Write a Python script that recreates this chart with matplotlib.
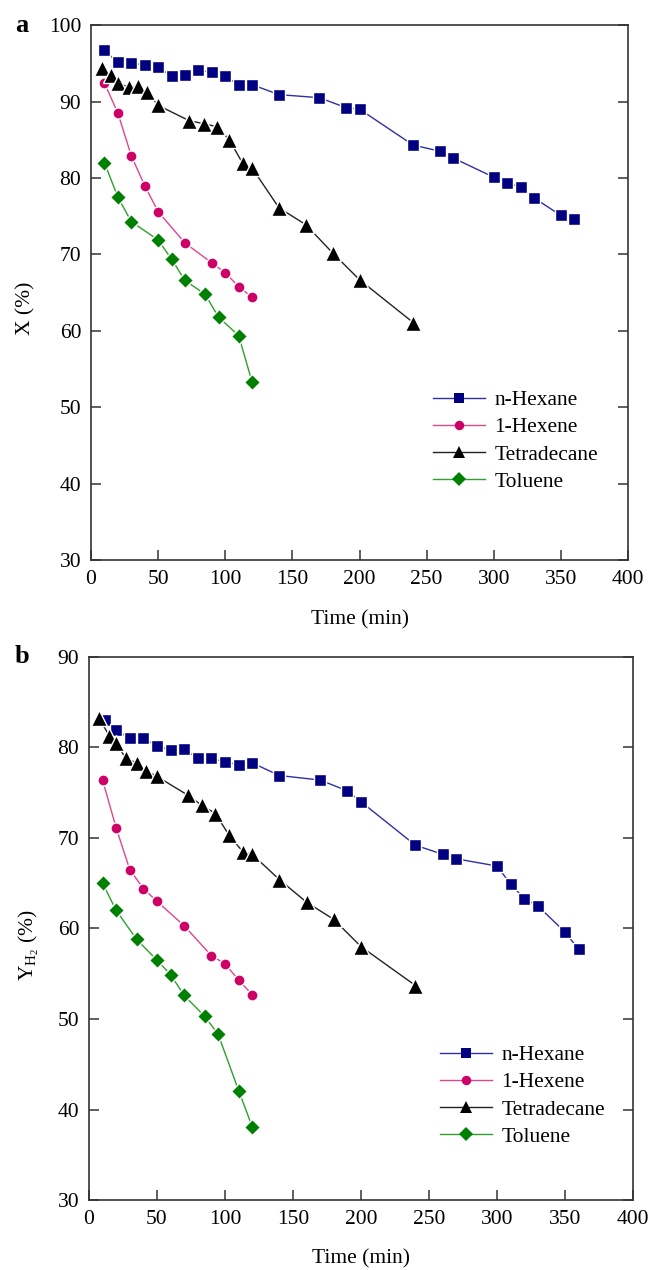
import matplotlib
matplotlib.use("Agg")
import matplotlib.pyplot as plt

plt.rcParams['font.family'] = ['Liberation Serif', 'DejaVu Serif']
plt.rcParams['mathtext.fontset'] = 'stix'

# ---- panel a : conversion X (%) ----
hex_t_a = [10, 20, 30, 40, 50, 60, 70, 80, 90, 100, 110, 120, 140, 170, 190, 200,
           240, 260, 270, 300, 310, 320, 330, 350, 360]
hex_x_a = [96.7, 95.1, 95.0, 94.8, 94.5, 93.3, 93.5, 94.1, 93.8, 93.3, 92.2, 92.2, 90.9,
           90.5, 89.2, 89.0, 84.3, 83.5, 82.6, 80.1, 79.4, 78.8, 77.4, 75.1, 74.7]
hexene_t_a = [10, 20, 30, 40, 50, 70, 90, 100, 110, 120]
hexene_x_a = [92.4, 88.5, 82.9, 79.0, 75.6, 71.5, 68.9, 67.6, 65.8, 64.4]
tetra_t_a = [8, 15, 20, 28, 35, 42, 50, 73, 84, 94, 103, 113, 120, 140, 160, 180, 200, 240]
tetra_x_a = [94.4, 93.5, 92.4, 91.9, 92.0, 91.2, 89.5, 87.5, 87.1, 86.7, 85.0, 81.9,
             81.3, 76.1, 73.9, 70.2, 66.7, 61.1]
tol_t_a = [10, 20, 30, 50, 60, 70, 85, 95, 110, 120]
tol_x_a = [82.0, 77.5, 74.3, 71.9, 69.4, 66.6, 64.8, 61.8, 59.4, 53.3]

# ---- panel b : hydrogen yield (%) ----
hex_t_b = [12, 20, 30, 40, 50, 60, 70, 80, 90, 100, 110, 120, 140, 170, 190, 200,
           240, 260, 270, 300, 310, 320, 330, 350, 360]
hex_y_b = [83.0, 81.9, 81.0, 81.0, 80.2, 79.7, 79.8, 78.8, 78.8, 78.4, 78.1, 78.3, 76.9,
           76.4, 75.2, 74.0, 69.2, 68.2, 67.7, 66.9, 64.9, 63.3, 62.5, 59.6, 57.7]
hexene_t_b = [10, 20, 30, 40, 50, 70, 90, 100, 110, 120]
hexene_y_b = [76.4, 71.1, 66.5, 64.4, 63.0, 60.3, 57.0, 56.1, 54.3, 52.7]
tetra_t_b = [7, 15, 20, 27, 35, 42, 50, 73, 83, 93, 103, 113, 120, 140, 160, 180, 200, 240]
tetra_y_b = [83.3, 81.3, 80.5, 78.8, 78.3, 77.4, 76.8, 74.7, 73.6, 72.7, 70.3, 68.5,
             68.2, 65.4, 62.9, 61.0, 58.0, 53.7]
tol_t_b = [10, 20, 35, 50, 60, 70, 85, 95, 110, 120]
tol_y_b = [65.0, 62.0, 58.8, 56.5, 54.9, 52.6, 50.3, 48.3, 42.1, 38.1]

labels = ['n-Hexane', '1-Hexene', 'Tetradecane', 'Toluene']
markers = ['s', 'o', '^', 'D']
sizes = [8, 8, 11, 8.5]
mcolors = ['#000080', '#CC0066', '#000000', '#008000']
lcolors = ['#2E2EA8', '#E0468C', '#222222', '#2EA02E']

FS = 15.5


def draw_panel(ax, series, ylim, yticks, ylabel, letter, letter_x, leg_xy, ylab_x):
    for (t, v), lab, m, ms, mc, lc in zip(series, labels, markers, sizes, mcolors, lcolors):
        ax.plot(t, v, color=lc, lw=1.0, marker=m, ms=ms, mfc=mc, mec='white',
                mew=1.0, label=lab)
    ax.set_xlim(0, 400)
    ax.set_ylim(*ylim)
    ax.set_xticks(range(0, 401, 50))
    ax.set_yticks(yticks)
    ax.tick_params(direction='in', length=7, width=1.1, labelsize=FS, pad=7,
                   right=True, top=False, color='#333333')
    for s in ax.spines.values():
        s.set_linewidth(1.2)
        s.set_color('#333333')
    ax.set_xlabel('Time (min)', fontsize=FS, labelpad=15)
    ax.set_ylabel(ylabel, fontsize=FS)
    ax.yaxis.set_label_coords(ylab_x, 0.47)
    leg = ax.legend(loc='upper left', bbox_to_anchor=leg_xy, frameon=False,
                    fontsize=FS, handlelength=2.4, handletextpad=0.45,
                    labelspacing=0.33, borderpad=0, borderaxespad=0, numpoints=1)
    for h in leg.legend_handles:
        h.set_markeredgewidth(0)
        h.set_markersize(h.get_markersize() * 0.85)
    ax.text(letter_x, 1.0, letter, transform=ax.transAxes, fontsize=19,
            fontweight='bold', va='center', ha='left')


fig = plt.figure(figsize=(6.51, 12.70), dpi=100)
ax1 = fig.add_axes([0.1398, 0.5587, 0.8249, 0.4216])
ax2 = fig.add_axes([0.1367, 0.0551, 0.8357, 0.4276])

draw_panel(ax1,
           [(hex_t_a, hex_x_a), (hexene_t_a, hexene_x_a), (tetra_t_a, tetra_x_a), (tol_t_a, tol_x_a)],
           (30, 100), range(30, 101, 10), 'X (%)', 'a', -0.141, (0.637, 0.318), -0.104)
draw_panel(ax2,
           [(hex_t_b, hex_y_b), (hexene_t_b, hexene_y_b), (tetra_t_b, tetra_y_b), (tol_t_b, tol_y_b)],
           (30, 90), range(30, 91, 10), r'$\mathregular{Y_{H_2}}$ (%)', 'b', -0.136, (0.645, 0.285), -0.088)

fig.savefig('out.png', dpi=100)
